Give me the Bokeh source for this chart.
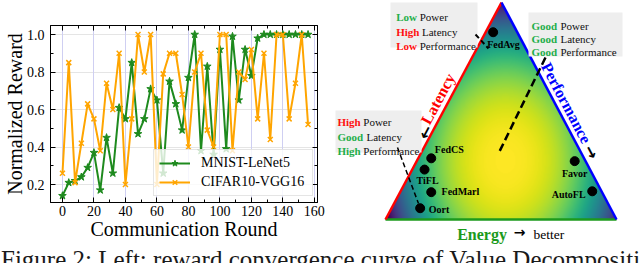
import numpy as np
from bokeh.plotting import figure
from bokeh.models import (Range1d, LinearAxis, SingleIntervalTicker, Legend,
                          LegendItem, ColumnDataSource, Grid,
                          PrintfTickFormatter)
from bokeh.layouts import row, column
from bokeh.embed import file_html
from bokeh.resources import INLINE
from bokeh.core.properties import value
from bokeh.palettes import Viridis256

# ---------------- data: left panel ----------------
rounds = list(range(0, 160, 4))
mnist_lenet5 = [0.14, 0.21, 0.22, 0.24, 0.29, 0.37, 0.17, 0.45, 0.26, 0.61,
                0.55, 0.85, 0.47, 0.55, 0.71, 0.65, 0.26, 0.75, 0.63, 0.49,
                0.77, 1.00, 0.38, 0.83, 0.36, 0.92, 0.39, 0.99, 0.65, 0.92,
                0.78, 0.98, 1.00, 1.00, 1.00, 1.00, 1.00, 1.00, 1.00, 1.00]
cifar10_vgg16 = [0.26, 0.85, 0.21, 0.42, 0.63, 0.55, 0.38, 0.74, 0.60, 0.90,
                 0.20, 0.55, 1.00, 0.80, 1.00, 0.20, 0.79, 0.90, 0.90, 0.68,
                 0.40, 0.80, 0.90, 0.49, 0.40, 1.00, 1.00, 0.38, 0.80, 0.76,
                 0.92, 0.55, 0.90, 0.44, 1.00, 1.00, 0.55, 0.74, 1.00, 0.52]
series_names = ["MNIST-LeNet5", "CIFAR10-VGG16"]
x_label = "Communication Round"
y_label = "Normalized Reward"

# ---------------- data: right panel ----------------
methods = ["FedAvg", "FedCS", "TiFL", "FedMarl", "Oort", "Favor", "AutoFL"]
method_u = [0.466, 0.198, 0.169, 0.198, 0.150, 0.819, 0.895]   # along Energy side
method_v = [0.863, 0.282, 0.230, 0.126, 0.052, 0.269, 0.130]   # towards apex
box_top_left = [("Low", "Power"), ("High", "Latency"), ("Low", "Performance")]
box_top_right = [("Good", "Power"), ("Good", "Latency"), ("Good", "Performance")]
box_left = [("High", "Power"), ("Good", "Latency"), ("High", "Performance")]
caption = "Figure 2: Left: reward convergence curve of Value Decomposition"

# ---------------- styles ----------------
SERIF = "Liberation Serif"
GREEN_LINE = "#1e8a1e"
ORANGE = "#ffa500"
WORD_GREEN = "#1fae4b"
WORD_RED = "#ff1010"
PAGE_H = 263
SPLIT = 326          # x where the left panel ends
ROW_H = 247          # height of the two panels; caption strip below

# ======================= left figure =======================
p1 = figure(width=SPLIT, height=ROW_H, x_range=Range1d(-7.6, 162),
            y_range=Range1d(0.104, 1.048), output_backend="svg",
            toolbar_location=None, min_border_left=50,
            min_border_right=SPLIT - 317, min_border_top=25,
            min_border_bottom=ROW_H - 202,
            x_axis_location=None, y_axis_location=None)
p1.frame_align = False
p1.outline_line_color = "black"
p1.outline_line_width = 1
p1.outline_line_alpha = 1

xt = SingleIntervalTicker(interval=20, num_minor_ticks=2)
yt = SingleIntervalTicker(interval=0.2, num_minor_ticks=2)
bottom_ax = LinearAxis(ticker=xt, axis_label=x_label)
left_ax = LinearAxis(ticker=yt, axis_label=y_label,
                     formatter=PrintfTickFormatter(format="%.1f"))
top_ax = LinearAxis(ticker=xt)
right_ax = LinearAxis(ticker=yt)
p1.add_layout(bottom_ax, "below")
p1.add_layout(left_ax, "left")
p1.add_layout(top_ax, "above")
p1.add_layout(right_ax, "right")
p1.add_layout(Grid(dimension=0, ticker=xt, grid_line_color="#cfcff2",
                   grid_line_width=1))

for ax in [bottom_ax, left_ax, top_ax, right_ax]:
    ax.major_tick_in = 5
    ax.major_tick_out = 0
    ax.minor_tick_in = 3
    ax.minor_tick_out = 0
    ax.axis_line_color = "black"
    ax.major_tick_line_color = "black"
    ax.minor_tick_line_color = "black"
    ax.major_label_text_font = SERIF
    ax.major_label_text_font_size = "14px"
    ax.major_label_text_color = "black"
    ax.axis_label_text_font = SERIF
    ax.axis_label_text_font_size = "20px"
    ax.axis_label_text_font_style = "normal"
    ax.axis_label_text_color = "black"
for ax in [top_ax, right_ax]:
    ax.major_label_text_font_size = "1px"
    ax.major_label_text_color = None
    ax.major_label_standoff = 0
bottom_ax.major_label_standoff = 3
bottom_ax.axis_label_standoff = -1
left_ax.major_label_standoff = 6
left_ax.axis_label_standoff = -2

src = ColumnDataSource(dict(r=rounds, m=mnist_lenet5, c=cifar10_vgg16))
l1 = p1.line("r", "m", source=src, color=GREEN_LINE, line_width=2)
s1 = p1.scatter("r", "m", source=src, marker="star", size=8, color=GREEN_LINE)
l2 = p1.line("r", "c", source=src, color=ORANGE, line_width=2)
s2 = p1.scatter("r", "c", source=src, marker="x", size=7, line_width=1.5,
                color=ORANGE)

legend = Legend(items=[LegendItem(label=series_names[0], renderers=[l1, s1]),
                       LegendItem(label=series_names[1], renderers=[l2, s2])],
                location=(103, 6), padding=5, spacing=3, margin=0,
                glyph_width=31, glyph_height=16, label_height=16,
                label_width=106, label_standoff=11,
                label_text_font=SERIF, label_text_font_size="14px",
                label_text_color="black",
                border_line_color="#cccccc", border_line_width=1,
                background_fill_color="white", background_fill_alpha=0.8)
p1.add_layout(legend)

# ======================= right figure =======================
p2 = figure(width=640 - SPLIT, height=ROW_H, x_range=Range1d(SPLIT, 640),
            y_range=Range1d(PAGE_H - ROW_H, PAGE_H), output_backend="svg",
            toolbar_location=None, min_border=0,
            x_axis_location=None, y_axis_location=None)
p2.frame_align = False
p2.grid.visible = False
p2.outline_line_color = None


def Y(sy):
    return PAGE_H - sy


TL, TR, TT = (385, 219), (616, 219), (501, 2)  # triangle corners (page px)
W = TR[0] - TL[0]
H = TL[1] - TT[1]


def to_xy(u, v):
    return TL[0] + u * W, Y(TL[1] - v * H)


# gradient fill
gx = TL[0] + np.arange(W) + 0.5
gy = TL[1] - (np.arange(H) + 0.5)
GX, GY = np.meshgrid(gx, gy)
frac = (TL[1] - GY) / H
xl = TL[0] + frac * (TT[0] - TL[0])
xr = TR[0] + frac * (TT[0] - TR[0])
inside = (GX >= xl) & (GX <= xr)
t = np.sqrt(((GX - 505) / 125.0) ** 2 + ((GY - 160) / 160.0) ** 2)
lev = np.clip(1 - t ** 2.5, 0, 1)
idx = np.round(lev * 255).astype(int)
pal = np.array([[int(c[1:3], 16), int(c[3:5], 16), int(c[5:7], 16)]
                for c in Viridis256], dtype=np.uint8)
img = np.zeros((H, W), dtype=np.uint32)
view = img.view(dtype=np.uint8).reshape((H, W, 4))
view[..., :3] = pal[idx]
view[..., 3] = np.where(inside, 255, 0).astype(np.uint8)
p2.image_rgba(image=[img], x=TL[0], y=Y(TL[1]), dw=W, dh=H)

# edges
p2.segment(x0=[TL[0]], y0=[Y(TL[1])], x1=[TR[0]], y1=[Y(TR[1])],
           line_color="#1c9a1c", line_width=2.5)
p2.segment(x0=[TL[0]], y0=[Y(TL[1])], x1=[TT[0]], y1=[Y(TT[1])],
           line_color="#ff0000", line_width=2.5)
p2.segment(x0=[TR[0]], y0=[Y(TR[1])], x1=[TT[0]], y1=[Y(TT[1])],
           line_color="#0000ff", line_width=2.5)

# grey note boxes
p2.quad(left=[390, 528, 335], right=[477, 622, 421],
        top=[Y(2), Y(12), Y(110)], bottom=[Y(47), Y(56), Y(152)],
        fill_color="#eeeeee", line_color=None)

# dashed leader lines
p2.segment(x0=[475], y0=[Y(34)], x1=[488], y1=[Y(48)], line_color="black",
           line_width=2, line_dash="5 3")
p2.segment(x0=[545], y0=[Y(57)], x1=[498], y1=[Y(153)], line_color="black",
           line_width=2.5, line_dash="8 4")
p2.segment(x0=[397], y0=[Y(147)], x1=[418], y1=[Y(203)], line_color="black",
           line_width=1.5, line_dash="5 3")

# note text
bold_width = {"Low": 23.5, "High": 25.8, "Good": 29.0}


def note(lines, x0, baselines, colors):
    bx, by, bt, bc, rx, ry, rt = [], [], [], [], [], [], []
    for (w1, w2), b, col in zip(lines, baselines, colors):
        bx.append(x0); by.append(Y(b)); bt.append(w1); bc.append(col)
        rx.append(x0 + bold_width[w1]); ry.append(Y(b)); rt.append(w2)
    p2.text(x=bx, y=by, text=bt, text_color=bc, text_font=value(SERIF),
            text_font_size="11px", text_font_style="bold",
            text_baseline="alphabetic", text_align="left")
    p2.text(x=rx, y=ry, text=rt, text_color="#111111", text_font=value(SERIF),
            text_font_size="11px", text_baseline="alphabetic", text_align="left")


note(box_top_left, 395.7, [16.5, 31.0, 45.5], [WORD_GREEN, WORD_RED, WORD_RED])
note(box_top_right, 531, [25.0, 38.5, 51.8], [WORD_GREEN] * 3)
note(box_left, 337, [121.5, 136.3, 150.3], [WORD_RED, WORD_GREEN, WORD_GREEN])

# method points
pts = [to_xy(u, v) for u, v in zip(method_u, method_v)]
p2.scatter(x=[q[0] for q in pts], y=[q[1] for q in pts], size=9,
           color="black")
label_layout = {"FedAvg": (-6, 12.6, "left"), "FedCS": (3.6, -8.4, "left"),
                "TiFL": (3, 11, "center"), "FedMarl": (10.3, -1, "left"),
                "Oort": (8.6, 1.6, "left"), "Favor": (0, 12, "center"),
                "AutoFL": (-6.7, 3.3, "right")}
for name, (px, py) in zip(methods, pts):
    dx, dy, al = label_layout[name]
    p2.text(x=[px + dx], y=[py - dy], text=[name], text_font=value(SERIF),
            text_font_size="10px", text_font_style="bold", text_color="black",
            text_align=al, text_baseline="middle")

# side titles
p2.text(x=[437.5], y=[Y(98.3)], text=["Latency"], angle=61.9, angle_units="deg",
        text_font=value(SERIF), text_font_size="16px", text_font_style="bold",
        text_color="#ff0000", text_align="center", text_baseline="middle")
p2.text(x=[425], y=[Y(131.7)], text=["\u2190"], angle=61.9, angle_units="deg",
        text_font=value("DejaVu Sans"), text_font_size="16px",
        text_font_style="bold", text_color="black", text_align="center",
        text_baseline="middle")
p2.text(x=[565.8], y=[Y(102.5)], text=["Performance"], angle=-62.1,
        angle_units="deg", text_font=value(SERIF), text_font_size="16px",
        text_font_style="bold", text_color="#0000ff", text_align="center",
        text_baseline="middle")
p2.text(x=[590.8], y=[Y(151.7)], text=["\u2192"], angle=-62.1,
        angle_units="deg", text_font=value("DejaVu Sans"),
        text_font_size="16px", text_font_style="bold", text_color="black",
        text_align="center", text_baseline="middle")
p2.text(x=[456.7], y=[Y(234)], text=["Energy"], text_font=value(SERIF),
        text_font_size="16px", text_font_style="bold", text_color="#1c9a1c",
        text_align="left", text_baseline="alphabetic")
p2.text(x=[519], y=[Y(231)], text=["\u2192"], text_font=value("DejaVu Sans"),
        text_font_size="14px", text_font_style="bold", text_color="black",
        text_align="center", text_baseline="middle")
p2.text(x=[533], y=[Y(234)], text=["better"], text_font=value(SERIF),
        text_font_size="13.5px", text_color="black", text_align="left",
        text_baseline="alphabetic")

# ======================= caption strip =======================
CAP_H = PAGE_H - ROW_H
p3 = figure(width=640, height=CAP_H, x_range=Range1d(0, 640),
            y_range=Range1d(0, CAP_H), output_backend="svg",
            toolbar_location=None, min_border=0,
            x_axis_location=None, y_axis_location=None)
p3.frame_align = False
p3.grid.visible = False
p3.outline_line_color = None
p3.text(x=[0.5], y=[PAGE_H - 259.1], text=[caption], text_font=value(SERIF),
        text_font_size="25px", text_color="#1a1a1a", text_align="left",
        text_baseline="middle")

layout = column(row(p1, p2), p3)
open("out.html", "w").write(file_html(layout, INLINE))
